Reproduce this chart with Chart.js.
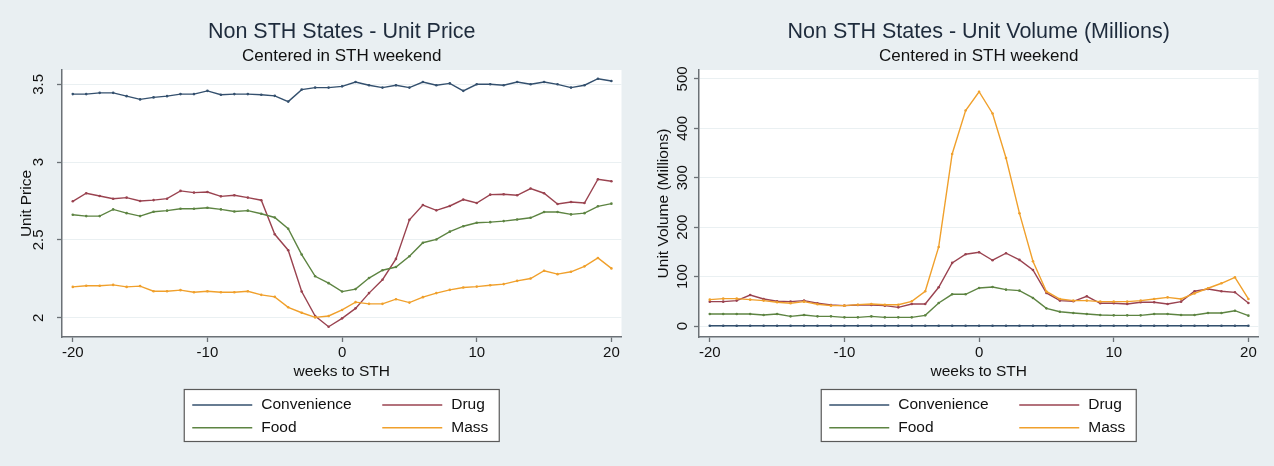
<!DOCTYPE html>
<html>
<head>
<meta charset="utf-8">
<title>Non STH States</title>
<script src="https://cdn.jsdelivr.net/npm/chart.js@4.4.1/dist/chart.umd.min.js"></script>
<style>
  html, body { margin: 0; padding: 0; background: #e9eff2; }
  .wrap { display: flex; width: 1274px; height: 466px; }
  .panel { position: relative; width: 637px; height: 466px; }
</style>
</head>
<body>
<div class="wrap">
  <div class="panel"><canvas id="priceChart"></canvas></div>
  <div class="panel"><canvas id="volumeChart"></canvas></div>
</div>
<script>
// weeks relative to the STH weekend
const weeks = [-20, -19, -18, -17, -16, -15, -14, -13, -12, -11,
               -10, -9, -8, -7, -6, -5, -4, -3, -2, -1,
               0, 1, 2, 3, 4, 5, 6, 7, 8, 9,
               10, 11, 12, 13, 14, 15, 16, 17, 18, 19, 20];

const seriesNames = ['Convenience', 'Drug', 'Food', 'Mass'];
const seriesColors = ['#34506e', '#9a4350', '#5d8442', '#f0a02c'];

// average unit price per channel
const priceConvenience = [3.437, 3.437, 3.445, 3.445, 3.424, 3.403, 3.416, 3.424, 3.437, 3.437,
                          3.458, 3.433, 3.437, 3.437, 3.433, 3.426, 3.389, 3.466, 3.479, 3.479,
                          3.487, 3.515, 3.494, 3.479, 3.494, 3.479, 3.515, 3.494, 3.506, 3.458,
                          3.5, 3.5, 3.494, 3.515, 3.5, 3.515, 3.5, 3.479, 3.494, 3.536, 3.521];
const priceDrug = [2.748, 2.80, 2.782, 2.765, 2.772, 2.75, 2.756, 2.765, 2.815, 2.804,
                   2.808, 2.78, 2.787, 2.772, 2.755, 2.536, 2.434, 2.168, 2.011, 1.942,
                   1.996, 2.06, 2.158, 2.244, 2.378, 2.629, 2.724, 2.69, 2.718, 2.759,
                   2.737, 2.791, 2.793, 2.787, 2.83, 2.80, 2.731, 2.744, 2.737, 2.89, 2.877];
const priceFood = [2.662, 2.653, 2.653, 2.696, 2.672, 2.653, 2.681, 2.688, 2.70, 2.70,
                   2.707, 2.696, 2.683, 2.688, 2.668, 2.644, 2.572, 2.406, 2.266, 2.222,
                   2.168, 2.184, 2.255, 2.305, 2.326, 2.395, 2.482, 2.503, 2.553, 2.588,
                   2.61, 2.614, 2.621, 2.631, 2.642, 2.679, 2.679, 2.664, 2.672, 2.716, 2.733];
const priceMass = [2.198, 2.205, 2.205, 2.211, 2.198, 2.203, 2.17, 2.17, 2.177, 2.164,
                   2.17, 2.164, 2.164, 2.17, 2.147, 2.134, 2.067, 2.032, 2.002, 2.011,
                   2.05, 2.10, 2.089, 2.089, 2.119, 2.097, 2.132, 2.158, 2.179, 2.194,
                   2.2, 2.209, 2.216, 2.237, 2.252, 2.302, 2.28, 2.295, 2.33, 2.384, 2.317];

// unit volume per channel, millions
const volumeConvenience = [0.5, 0.5, 0.5, 0.5, 0.5, 0.5, 0.5, 0.5, 0.5, 0.5,
                           0.5, 0.5, 0.5, 0.5, 0.5, 0.5, 0.5, 0.6, 0.6, 0.6,
                           0.6, 0.6, 0.6, 0.6, 0.5, 0.5, 0.5, 0.5, 0.5, 0.5,
                           0.5, 0.5, 0.5, 0.5, 0.5, 0.5, 0.5, 0.5, 0.5, 0.5, 0.5];
const volumeDrug = [49.3, 49.3, 51.4, 62.8, 54.7, 50, 49.3, 51.4, 46, 42.6,
                    41.2, 42.6, 42.6, 41.2, 37.8, 44.6, 44.6, 78.4, 127.7, 145.3,
                    149.3, 133.1, 147.3, 133.8, 113.5, 66.9, 51.4, 50, 60.1, 46,
                    46, 44.6, 48, 48, 44.6, 49.3, 70.3, 75, 70.3, 68.2, 46.6];
const volumeFood = [24.3, 24.3, 24.3, 24.3, 22.3, 24.3, 19.6, 22.3, 19.6, 19.6,
                    17.6, 17.6, 19.6, 17.6, 17.6, 17.6, 21.6, 46.6, 64.2, 64.2,
                    77, 79, 73.6, 71.6, 56.8, 35.8, 29, 26.4, 24.3, 22.3,
                    21.6, 21.6, 21.6, 24.3, 24.3, 22.3, 22.3, 26.4, 26.4, 31, 21];
const volumeMass = [53.4, 55.4, 55.4, 53.4, 51.4, 48, 46, 49.3, 44, 41.2,
                    41.2, 43.2, 44.6, 43.2, 43.2, 50, 70.3, 160, 348, 436,
                    474, 430, 340, 228, 131, 70, 54.7, 51.4, 51.4, 49.3,
                    49.3, 49.3, 51.4, 54.7, 58, 54.7, 66, 76.4, 86.5, 98.6, 54.7];

const weekTicks = [-20, -10, 0, 10, 20];
const priceTicks = [2, 2.5, 3, 3.5];
const volumeTicks = [0, 100, 200, 300, 400, 500];

const FONT = '"Liberation Sans", Arial, Helvetica, sans-serif';
const BG = '#e9eff2';
const AXIS = '#6b7176';
const GRID = '#eaf0f2';

Chart.defaults.font.family = FONT;
Chart.defaults.color = '#111';

// grey page behind, white plot region
const plotBackground = {
  id: 'plotBackground',
  beforeDraw(chart) {
    const { ctx, chartArea: a, width, height } = chart;
    ctx.save();
    ctx.fillStyle = BG;
    ctx.fillRect(0, 0, width, height);
    ctx.fillStyle = '#ffffff';
    ctx.fillRect(a.left, a.top, a.right - a.left, a.bottom - a.top);
    ctx.restore();
  }
};

// title and subtitle, centred over the plot region rather than the canvas
const panelTitles = {
  id: 'panelTitles',
  afterDraw(chart, args, opts) {
    const { ctx, chartArea: a } = chart;
    const cx = (a.left + a.right) / 2;
    ctx.save();
    ctx.textAlign = 'center';
    ctx.textBaseline = 'middle';
    ctx.fillStyle = '#1e2b3c';
    ctx.font = '21.5px ' + FONT;
    ctx.fillText(opts.text, cx, 32);
    ctx.fillStyle = '#111';
    ctx.font = '17px ' + FONT;
    ctx.fillText(opts.sub, cx, 56);
    ctx.restore();
  }
};

// y tick labels printed sideways
const sideTicks = {
  id: 'sideTicks',
  afterDraw(chart, args, opts) {
    const scale = chart.scales.y;
    const ctx = chart.ctx;
    ctx.save();
    ctx.font = '15px ' + FONT;
    ctx.fillStyle = '#111';
    ctx.textAlign = 'center';
    ctx.textBaseline = 'middle';
    scale.ticks.forEach(t => {
      ctx.save();
      ctx.translate(opts.x, scale.getPixelForValue(t.value));
      ctx.rotate(-Math.PI / 2);
      ctx.fillText(String(t.value), 0, 0);
      ctx.restore();
    });
    ctx.restore();
  }
};

// boxed two-column legend below the x axis title
const boxLegend = {
  id: 'boxLegend',
  afterDraw(chart) {
    const { ctx, chartArea: a } = chart;
    const cx = (a.left + a.right) / 2;
    const left = cx - 157.5, top = 389.5, w = 315, h = 52;
    ctx.save();
    ctx.fillStyle = '#ffffff';
    ctx.fillRect(left, top, w, h);
    ctx.strokeStyle = '#5a5a5a';
    ctx.lineWidth = 1.2;
    ctx.strokeRect(left, top, w, h);
    ctx.font = '15.5px ' + FONT;
    ctx.textBaseline = 'middle';
    ctx.textAlign = 'left';
    chart.data.datasets.forEach((ds, i) => {
      const col = i % 2, row = Math.floor(i / 2);
      const x0 = left + (col ? 198 : 8);
      const y = top + 15.5 + row * 22.7;
      ctx.strokeStyle = ds.borderColor;
      ctx.lineWidth = 1.6;
      ctx.beginPath();
      ctx.moveTo(x0, y);
      ctx.lineTo(x0 + 60, y);
      ctx.stroke();
      ctx.fillStyle = '#111';
      ctx.fillText(ds.label, x0 + 69, y);
    });
    ctx.restore();
  }
};

function makeChart(id, cfg) {
  const canvas = document.getElementById(id);
  return new Chart(canvas, {
    type: 'line',
    data: {
      datasets: cfg.series.map((values, i) => ({
        label: seriesNames[i],
        data: weeks.map((w, k) => ({ x: w, y: values[k] })),
        borderColor: seriesColors[i],
        backgroundColor: seriesColors[i],
        borderWidth: 1.4,
        pointRadius: 1.3,
        pointBorderWidth: 0,
        pointHoverRadius: 0,
        tension: 0,
        order: seriesNames.length - i
      }))
    },
    options: {
      responsive: true,
      maintainAspectRatio: false,
      animation: false,
      events: [],
      layout: { padding: { left: 0, right: 15.5, top: 70, bottom: 84 } },
      plugins: {
        legend: { display: false },
        tooltip: { enabled: false },
        title: { display: false },
        panelTitles: { text: cfg.title, sub: 'Centered in STH weekend' },
        sideTicks: { x: cfg.tickX }
      },
      scales: {
        x: {
          type: 'linear',
          min: -20.8,
          max: 20.75,
          afterBuildTicks: s => { s.ticks = weekTicks.map(v => ({ value: v })); },
          afterFit: s => { s.height = 45; },
          ticks: { color: '#111', font: { size: 15 }, padding: 2, autoSkip: false, maxRotation: 0,
                   callback: v => String(v) },
          grid: { drawOnChartArea: false, drawTicks: true, tickLength: 5, tickColor: AXIS, tickWidth: 1.3 },
          border: { color: AXIS, width: 1.5 },
          title: { display: true, text: 'weeks to STH', color: '#111', font: { size: 15.5 },
                   padding: { top: 0, bottom: 1 } }
        },
        y: {
          type: 'linear',
          min: cfg.yMin,
          max: cfg.yMax,
          afterBuildTicks: s => { s.ticks = cfg.yTicks.map(v => ({ value: v })); },
          afterFit: s => { s.width = 62; },
          ticks: { display: false },
          grid: { color: GRID, lineWidth: 1, drawTicks: true, tickLength: 5, tickColor: AXIS, tickWidth: 1.3 },
          border: { color: AXIS, width: 1.5 },
          title: { display: true, text: cfg.yTitle, color: '#111', font: { size: 15.5 },
                   padding: { top: 17.7, bottom: 0 } }
        }
      }
    },
    plugins: [plotBackground, panelTitles, sideTicks, boxLegend]
  });
}

makeChart('priceChart', {
  title: 'Non STH States - Unit Price',
  yTitle: 'Unit Price',
  series: [priceConvenience, priceDrug, priceFood, priceMass],
  yMin: 1.876,
  yMax: 3.592,
  yTicks: priceTicks,
  tickX: 39.3
});

makeChart('volumeChart', {
  title: 'Non STH States - Unit Volume (Millions)',
  yTitle: 'Unit Volume (Millions)',
  series: [volumeConvenience, volumeDrug, volumeFood, volumeMass],
  yMin: -22.2,
  yMax: 518,
  yTicks: volumeTicks,
  tickX: 45.7
});
</script>
</body>
</html>
